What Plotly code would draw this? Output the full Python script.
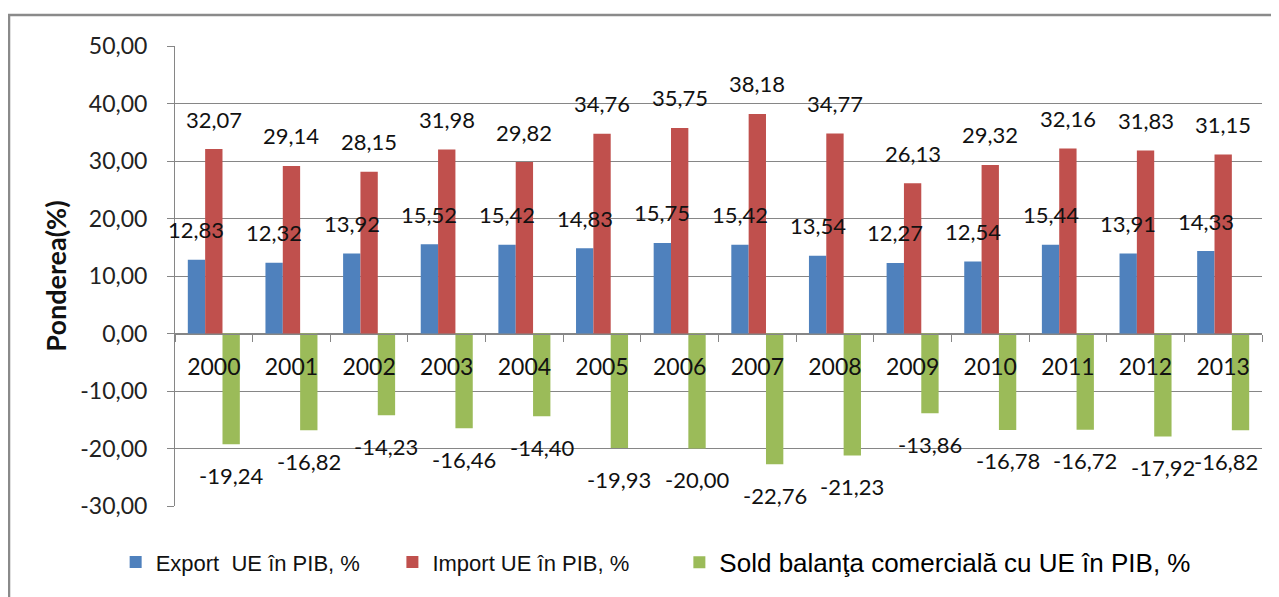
import plotly.graph_objects as go

years = ["2000", "2001", "2002", "2003", "2004", "2005", "2006",
         "2007", "2008", "2009", "2010", "2011", "2012", "2013"]
export_vals = [12.83, 12.32, 13.92, 15.52, 15.42, 14.83, 15.75,
               15.42, 13.54, 12.27, 12.54, 15.44, 13.91, 14.33]
import_vals = [32.07, 29.14, 28.15, 31.98, 29.82, 34.76, 35.75,
               38.18, 34.77, 26.13, 29.32, 32.16, 31.83, 31.15]
sold_vals = [-19.24, -16.82, -14.23, -16.46, -14.40, -19.93, -20.00,
             -22.76, -21.23, -13.86, -16.78, -16.72, -17.92, -16.82]
y_ticks = [-30, -20, -10, 0, 10, 20, 30, 40, 50]

series_names = ["Export  UE în PIB, %", "Import UE în PIB, %",
                "Sold balanţa comercială cu UE în PIB, %"]
colors = ["#4F81BD", "#C0504D", "#9BBB59"]
legend_ids = ["legend", "legend2", "legend3"]

FONT = "Lato, 'Open Sans', sans-serif"


def fmt(v):
    return f"{v:.2f}".replace(".", ",")


fig = go.Figure()
for name, vals, col, lg in zip(series_names, [export_vals, import_vals, sold_vals],
                               colors, legend_ids):
    fig.add_trace(go.Bar(x=years, y=vals, name=name, marker_color=col,
                         marker_line_width=0, legend=lg))

# data labels via annotations (category index positions); keep labels inside plot area
plot_w = 1087
cat_w = plot_w / len(years)
bar_w = cat_w * (1 - 0.33) / 3
half_label = 32
right_limit = plot_w - 4
for i, vals in enumerate([export_vals, import_vals, sold_vals]):
    for k, v in enumerate(vals):
        shift = (i - 1) * bar_w
        center = (k + 0.5) * cat_w + shift
        if center + half_label > right_limit:
            shift -= center + half_label - right_limit
        fig.add_annotation(x=k, y=v, xref="x", yref="y", text=fmt(v), showarrow=False,
                           xshift=shift,
                           yshift=30 if v >= 0 else -31,
                           font=dict(family=FONT, size=22, color="#111"))

narrow_font = dict(family="'Liberation Sans Narrow', 'Arial Narrow', 'Liberation Sans', sans-serif",
                   size=22, color="#111")
wide_font = dict(family="'Liberation Sans', Arial, sans-serif", size=26, color="#000")
legend_common = dict(orientation="h", xanchor="left", y=-0.12, yanchor="middle",
                     bgcolor="rgba(0,0,0,0)", itemsizing="constant")

# page body has an 8px margin -> figure is offset by 8px in the window
fig.update_layout(
    width=1271, height=589,
    separators=",.",
    barmode="group", bargap=0.33, bargroupgap=0,
    plot_bgcolor="white", paper_bgcolor="white",
    margin=dict(l=167, r=17, t=38, b=90),
    font=dict(family=FONT, color="#111"),
    showlegend=True,
    legend=dict(x=-0.0546, font=narrow_font, **legend_common),
    legend2=dict(x=0.200, font=narrow_font, **legend_common),
    legend3=dict(x=0.464, font=wide_font, **legend_common),
    xaxis=dict(type="category", range=[-0.5, len(years) - 0.5],
               anchor="free", position=0.375,
               showline=True, linecolor="#868686", linewidth=1,
               ticks="outside", ticklen=7, tickcolor="#868686", tickson="boundaries",
               showgrid=False, ticklabelstandoff=13,
               tickfont=dict(family=FONT, size=23, color="#111")),
    yaxis=dict(range=[-30, 50], tickvals=y_ticks,
               ticktext=[fmt(t) for t in y_ticks],
               showline=True, linecolor="#868686", linewidth=1,
               ticks="outside", ticklen=7, tickcolor="#868686",
               showgrid=True, gridcolor="#868686", gridwidth=1,
               zeroline=False, ticklabelstandoff=15,
               tickfont=dict(family=FONT, size=23, color="#222"),
               title=dict(text="<b>Ponderea(%)</b>", standoff=5,
                          font=dict(family=FONT, size=27, color="#111"))),
    shapes=[dict(type="rect", xref="paper", yref="paper",
                 x0=-0.1527, x1=1.2, y0=-0.4, y1=1.0672,
                 line=dict(color="#8a8a8a", width=2.5), layer="below")],
)

fig.write_html("out.html")
